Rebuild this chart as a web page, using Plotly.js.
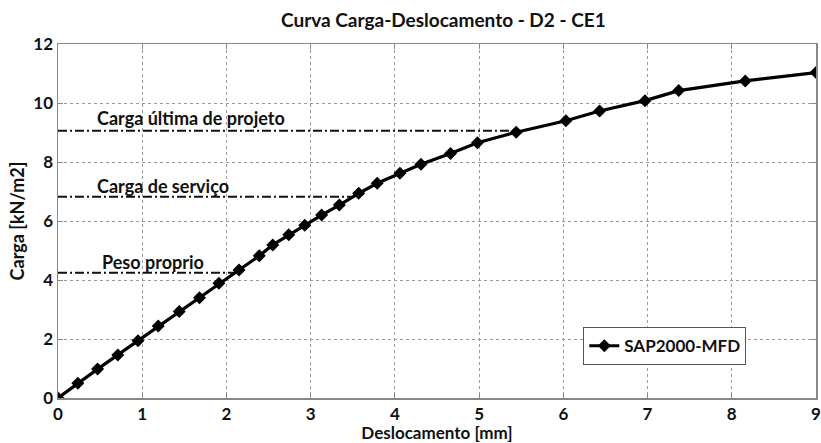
<!DOCTYPE html>
<html>
<head>
<meta charset="utf-8">
<script src="https://cdn.plot.ly/plotly-3.0.1.min.js"></script>
<style>html,body{margin:0;padding:0;background:#fff;}</style>
</head>
<body>
<div id="chart" style="width:821px;height:443px;"></div>
<script>
// Load–displacement curve
const deslocamento = [0, 0.235, 0.47, 0.71, 0.95, 1.19, 1.44, 1.68, 1.91, 2.15, 2.39, 2.55, 2.74, 2.93,
  3.13, 3.34, 3.57, 3.79, 4.06, 4.31, 4.66, 4.98, 5.44, 6.03, 6.43, 6.97, 7.37, 8.16, 9.0];
const carga = [0, 0.50, 0.98, 1.46, 1.94, 2.44, 2.93, 3.40, 3.89, 4.34, 4.82, 5.19, 5.53, 5.86,
  6.20, 6.54, 6.94, 7.28, 7.62, 7.92, 8.29, 8.65, 9.01, 9.40, 9.73, 10.08, 10.42, 10.75, 11.03];
const seriesName = 'SAP2000-MFD';

// Reference load levels
const refLabels = ['Carga última de projeto', 'Carga de serviço', 'Peso proprio'];
const refLoads = [9.06, 6.82, 4.25];
const refEnds = [5.45, 3.5, 2.1];
const refLabelX = [0.44, 0.44, 0.50];
const refLabelY = [9.5, 7.2, 4.62];

const xTicks = [0,1,2,3,4,5,6,7,8,9];
const yTicks = [0,2,4,6,8,10,12];

const FONT = 'Lato, "Open Sans", sans-serif';

const traces = [];
refLoads.forEach((v, i) => {
  traces.push({
    x: [0, refEnds[i]], y: [v, v], mode: 'lines', showlegend: false, hoverinfo: 'skip',
    line: {color: '#111', width: 2, dash: '9px,3px,2px,3px'}
  });
});
traces.push({
  x: deslocamento, y: carga, mode: 'lines+markers', name: seriesName,
  line: {color: '#000', width: 3.2},
  marker: {symbol: 'diamond', size: 10, color: '#000'}
});

const annotations = refLabels.map((t, i) => ({
  x: refLabelX[i], y: refLabelY[i], xref: 'x', yref: 'y', text: '<b>' + t + '</b>',
  showarrow: false, xanchor: 'left', yanchor: 'middle',
  font: {family: FONT, size: 18, color: '#111'}
}));

const axisCommon = {
  showline: true, linecolor: '#888', linewidth: 1.5, mirror: 'ticks',
  ticks: 'inside', ticklen: 5, tickcolor: '#888',
  showgrid: true, gridcolor: '#999', griddash: 'dot', gridwidth: 1,
  zeroline: false, ticklabeloverflow: 'allow',
  tickfont: {family: FONT, size: 17, color: '#111', weight: 'bold'}
};

const layout = {
  width: 821, height: 443,
  margin: {l: 58, r: 5, t: 44, b: 45},
  paper_bgcolor: '#fff', plot_bgcolor: '#fff',
  title: {text: '<b>Curva Carga-Deslocamento - D2 - CE1</b>', x: 0.54, xanchor: 'center',
    y: 0.955, yanchor: 'middle', font: {family: FONT, size: 19, color: '#111'}},
  xaxis: Object.assign({}, axisCommon, {
    range: [0, 9], tickvals: xTicks, ticktext: xTicks.map(String), ticklabelstandoff: 0,
    title: {text: '<b>Deslocamento [mm]</b>', standoff: 0, font: {family: FONT, size: 17, color: '#111'}}
  }),
  yaxis: Object.assign({}, axisCommon, {
    range: [0, 12], tickvals: yTicks, ticktext: yTicks.map(String),
    title: {text: '<b>Carga [kN/m2]</b>', standoff: 4, font: {family: FONT, size: 18, color: '#111'}}
  }),
  showlegend: true,
  legend: {x: 0.693, y: 0.2, xanchor: 'left', yanchor: 'top', bgcolor: '#fff',
    bordercolor: '#555', borderwidth: 1, itemwidth: 30,
    font: {family: FONT, size: 17, color: '#111', weight: 'bold'}},
  annotations: annotations
};

Plotly.newPlot('chart', traces, layout, {displayModeBar: false, staticPlot: true});
</script>
</body>
</html>
